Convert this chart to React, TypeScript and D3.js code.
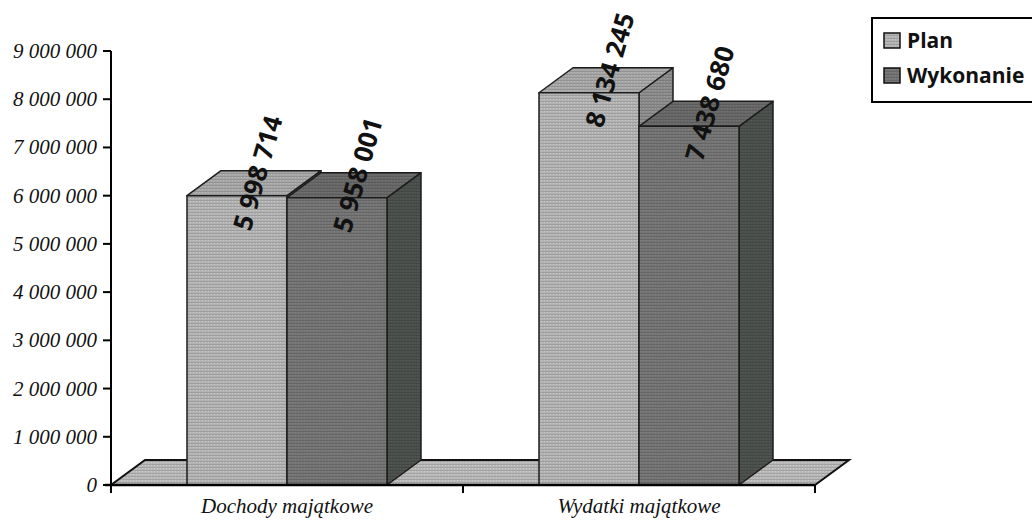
import React, { useEffect, useRef } from "react";
import * as d3 from "d3";

const categories = ["Dochody majątkowe", "Wydatki majątkowe"];
const seriesNames = ["Plan", "Wykonanie"];
const planValues = [5998714, 8134245];
const wykonanieValues = [5958001, 7438680];
const yTicks = [0, 1000000, 2000000, 3000000, 4000000, 5000000, 6000000, 7000000, 8000000, 9000000];

const colors: Record<string, { front: string; top: string; side: string }> = {
  Plan: { front: "#b3b3b3", top: "#a6a6a6", side: "#8c8c8c" },
  Wykonanie: { front: "#747474", top: "#686868", side: "#4b504c" },
};

export default function App() {
  const ref = useRef<SVGSVGElement>(null);

  useEffect(() => {
    document.body.style.margin = "0";
    const width = 1032;
    const height = 526;
    const left = 111;
    const right = 815;
    const base = 485;
    const depthX = 34;
    const depthY = 25;

    const svg = d3.select(ref.current).attr("width", width).attr("height", height);
    svg.selectAll("*").remove();

    // scanned-looking texture for every fill
    const defs = svg.append("defs");
    const fills: string[] = [];
    Object.values(colors).forEach((c) => fills.push(c.front, c.top, c.side));
    fills.push("#b8b8b8");
    const patId = (c: string) => "p" + c.slice(1);
    fills.forEach((c) => {
      const p = defs.append("pattern").attr("id", patId(c)).attr("width", 3).attr("height", 3)
        .attr("patternUnits", "userSpaceOnUse");
      p.append("rect").attr("width", 3).attr("height", 3).attr("fill", c);
      p.append("rect").attr("y", 2).attr("width", 3).attr("height", 1)
        .attr("fill", d3.color(c)!.darker(0.35).toString());
      p.append("rect").attr("x", 1).attr("width", 1).attr("height", 1)
        .attr("fill", d3.color(c)!.brighter(0.3).toString());
    });
    const fillOf = (c: string) => `url(#${patId(c)})`;

    const yScale = d3.scaleLinear().domain([0, 9000000]).range([base, 51]);
    const xScale = d3.scaleBand().domain(categories).range([left, right]);
    const groupWidth = 200;
    const xSeries = d3.scaleBand().domain(seriesNames).range([0, groupWidth]);
    const fmt = (v: number) => d3.format(",")(v).replace(/,/g, " ");

    // floor
    svg.append("path")
      .attr("d", `M${left},${base}L${right},${base}L${right + depthX},${base - depthY}L${left + depthX},${base - depthY}Z`)
      .attr("fill", fillOf("#b8b8b8"))
      .attr("stroke", "#111")
      .attr("stroke-width", 2);

    // bars
    const stroke = "#1c1c1c";
    categories.forEach((cat, i) => {
      const g0 = xScale(cat)! + (xScale.bandwidth() - groupWidth) / 2;
      seriesNames.forEach((s) => {
        const v = s === "Plan" ? planValues[i] : wykonanieValues[i];
        const x0 = g0 + xSeries(s)!;
        const x1 = x0 + xSeries.bandwidth();
        const yt = yScale(v);
        const c = colors[s];
        const g = svg.append("g").attr("stroke", stroke).attr("stroke-width", 1.5).attr("stroke-linejoin", "round");
        g.append("path")
          .attr("d", `M${x1},${base}L${x1},${yt}L${x1 + depthX},${yt - depthY}L${x1 + depthX},${base - depthY}Z`)
          .attr("fill", fillOf(c.side));
        g.append("path")
          .attr("d", `M${x0},${yt}L${x1},${yt}L${x1 + depthX},${yt - depthY}L${x0 + depthX},${yt - depthY}Z`)
          .attr("fill", fillOf(c.top));
        g.append("rect")
          .attr("x", x0).attr("y", yt).attr("width", x1 - x0).attr("height", base - yt)
          .attr("fill", fillOf(c.front));
      });
    });

    // data labels
    categories.forEach((cat, i) => {
      const g0 = xScale(cat)! + (xScale.bandwidth() - groupWidth) / 2;
      seriesNames.forEach((s) => {
        const v = s === "Plan" ? planValues[i] : wykonanieValues[i];
        const cx = g0 + xSeries(s)! + xSeries.bandwidth() / 2 + 20;
        const cy = yScale(v) - 23;
        svg.append("text")
          .attr("transform", `translate(${cx},${cy}) rotate(-74)`)
          .attr("text-anchor", "middle")
          .attr("dominant-baseline", "central")
          .style("font-family", "'Open Sans', sans-serif")
          .style("font-weight", "bold")
          .style("font-size", "26px")
          .attr("fill", "#111")
          .text(fmt(v));
      });
    });

    // y axis
    svg.append("line").attr("x1", left).attr("x2", left).attr("y1", yScale(9000000)).attr("y2", base + 8)
      .attr("stroke", "#000").attr("stroke-width", 2);
    yTicks.forEach((t) => {
      svg.append("line").attr("x1", left - 8).attr("x2", left).attr("y1", yScale(t)).attr("y2", yScale(t))
        .attr("stroke", "#000").attr("stroke-width", 2);
      svg.append("text")
        .attr("x", 97).attr("y", yScale(t) + 7)
        .attr("text-anchor", "end")
        .style("font-family", "'Liberation Serif', serif")
        .style("font-style", "italic")
        .style("font-size", "21px")
        .attr("fill", "#111")
        .text(fmt(t));
    });

    // x axis
    svg.append("line").attr("x1", left - 6).attr("x2", right).attr("y1", base).attr("y2", base)
      .attr("stroke", "#000").attr("stroke-width", 2.5);
    [left, left + xScale.bandwidth(), right].forEach((x) => {
      svg.append("line").attr("x1", x).attr("x2", x).attr("y1", base).attr("y2", base + 8)
        .attr("stroke", "#000").attr("stroke-width", 2);
    });
    categories.forEach((cat) => {
      svg.append("text")
        .attr("x", xScale(cat)! + xScale.bandwidth() / 2)
        .attr("y", 513)
        .attr("text-anchor", "middle")
        .style("font-family", "'Liberation Serif', serif")
        .style("font-style", "italic")
        .style("font-size", "21px")
        .attr("fill", "#111")
        .text(cat);
    });

    // legend
    svg.append("rect").attr("x", 872).attr("y", 18).attr("width", 200).attr("height", 84)
      .attr("fill", "#fff").attr("stroke", "#000").attr("stroke-width", 2);
    seriesNames.forEach((s, i) => {
      const y = 33 + i * 35;
      svg.append("rect").attr("x", 884).attr("y", y).attr("width", 16).attr("height", 15)
        .attr("fill", fillOf(colors[s].front)).attr("stroke", "#111").attr("stroke-width", 1.5);
      svg.append("text")
        .attr("x", 907).attr("y", y + 15)
        .style("font-family", "'Open Sans', sans-serif")
        .style("font-weight", "bold")
        .style("font-size", "21px")
        .attr("fill", "#111")
        .text(s);
    });
  }, []);

  return <svg ref={ref} style={{ display: "block" }}></svg>;
}
